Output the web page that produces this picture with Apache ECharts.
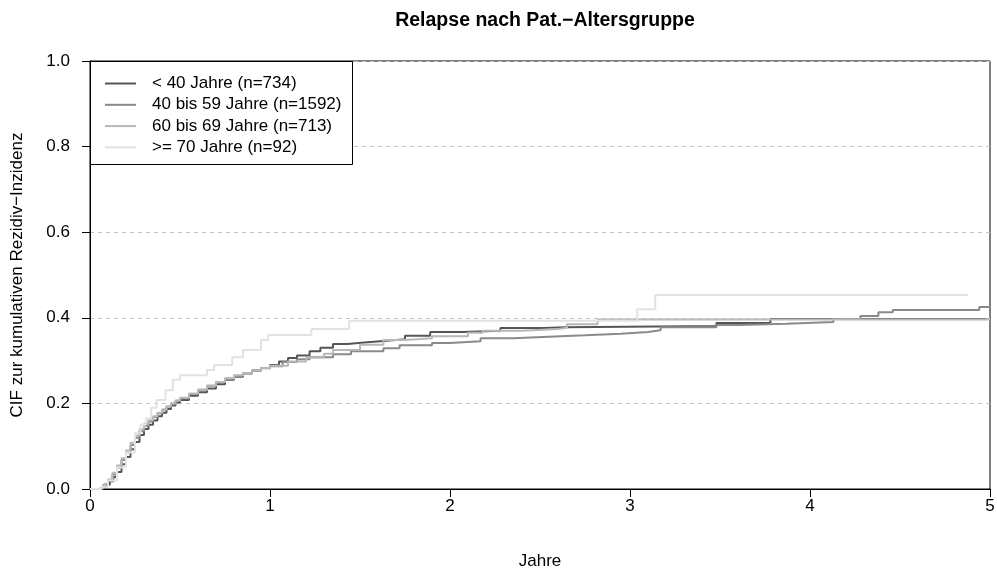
<!DOCTYPE html>
<html>
<head>
<meta charset="utf-8">
<script src="https://cdn.jsdelivr.net/npm/echarts@6/dist/echarts.min.js"></script>
<style>
  html, body { margin: 0; padding: 0; background: #fff; }
  #chart { width: 997px; height: 569px; }
</style>
</head>
<body>
<div id="chart"></div>
<script>
// Gruppen und Farben
const groupNames = ['< 40 Jahre (n=734)', '40 bis 59 Jahre (n=1592)', '60 bis 69 Jahre (n=713)', '>= 70 Jahre (n=92)']
const groupColors = ['#555555', '#8a8a8a', '#b8b8b8', '#e2e2e2']

const yTicks = [0, 0.2, 0.4, 0.6, 0.8, 1.0]
const xTicks = [0, 1, 2, 3, 4, 5]

// Zeitpunkte (Jahre) und CIF-Werte
const t40 = [0, 0.07, 0.09, 0.11, 0.13, 0.15, 0.175, 0.2, 0.225, 0.25, 0.275, 0.3, 0.325, 0.35, 0.375, 0.4, 0.425, 0.45, 0.475, 0.5, 0.55, 0.6, 0.65, 0.7, 0.75, 0.8, 0.85, 0.9, 0.95, 1.0, 1.05, 1.1, 1.15, 1.22, 1.28, 1.35, 1.43, 1.54, 1.63, 1.75, 1.89, 2.07, 2.28, 2.52, 2.64, 3.48, 3.78, 4.98]
const v40 = [0, 0.005, 0.01, 0.018, 0.028, 0.04, 0.058, 0.075, 0.093, 0.11, 0.126, 0.14, 0.15, 0.16, 0.17, 0.178, 0.187, 0.195, 0.202, 0.208, 0.218, 0.226, 0.235, 0.245, 0.255, 0.262, 0.27, 0.277, 0.283, 0.29, 0.298, 0.306, 0.312, 0.322, 0.33, 0.339, 0.343, 0.346, 0.35, 0.358, 0.367, 0.37, 0.376, 0.378, 0.381, 0.388, 0.397, 0.397]

const t4059 = [0, 0.05, 0.075, 0.1, 0.125, 0.15, 0.175, 0.2, 0.225, 0.25, 0.275, 0.3, 0.325, 0.35, 0.375, 0.4, 0.425, 0.45, 0.475, 0.5, 0.55, 0.6, 0.65, 0.7, 0.75, 0.8, 0.85, 0.9, 0.95, 1.0, 1.07, 1.15, 1.22, 1.35, 1.45, 1.63, 1.72, 1.9, 2.0, 2.17, 2.35, 2.55, 2.75, 2.95, 3.1, 3.17, 3.48, 3.61, 3.87, 4.13, 4.28, 4.38, 4.46, 4.94, 5.0]
const v4059 = [0, 0.004, 0.01, 0.02, 0.034, 0.05, 0.068, 0.085, 0.103, 0.12, 0.135, 0.148, 0.158, 0.168, 0.177, 0.185, 0.193, 0.2, 0.206, 0.212, 0.222, 0.232, 0.241, 0.25, 0.258, 0.265, 0.271, 0.276, 0.282, 0.287, 0.297, 0.303, 0.308, 0.315, 0.322, 0.329, 0.336, 0.341, 0.345, 0.352, 0.356, 0.359, 0.363, 0.367, 0.371, 0.378, 0.383, 0.386, 0.39, 0.397, 0.404, 0.413, 0.418, 0.425, 0.425]

const t6069 = [0, 0.06, 0.08, 0.1, 0.125, 0.15, 0.175, 0.2, 0.225, 0.25, 0.275, 0.3, 0.325, 0.35, 0.375, 0.4, 0.425, 0.45, 0.475, 0.5, 0.55, 0.6, 0.65, 0.7, 0.75, 0.8, 0.85, 0.9, 0.95, 1.0, 1.1, 1.2, 1.3, 1.35, 1.5, 1.63, 1.75, 1.9, 2.1, 2.18, 2.4, 2.6, 2.65, 2.82, 5.0]
const v6069 = [0, 0.004, 0.012, 0.022, 0.038, 0.055, 0.072, 0.09, 0.108, 0.125, 0.14, 0.152, 0.161, 0.17, 0.178, 0.186, 0.193, 0.2, 0.207, 0.213, 0.223, 0.232, 0.241, 0.25, 0.258, 0.265, 0.271, 0.277, 0.283, 0.288, 0.298, 0.307, 0.316, 0.325, 0.337, 0.348, 0.352, 0.357, 0.365, 0.37, 0.374, 0.377, 0.385, 0.396, 0.396]

const t70 = [0, 0.06, 0.1, 0.15, 0.2, 0.25, 0.28, 0.31, 0.34, 0.37, 0.42, 0.46, 0.5, 0.65, 0.69, 0.79, 0.85, 0.95, 0.99, 1.23, 1.44, 3.04, 3.14, 4.88]
const v70 = [0, 0.005, 0.02, 0.05, 0.085, 0.13, 0.15, 0.165, 0.19, 0.208, 0.231, 0.255, 0.266, 0.278, 0.29, 0.308, 0.325, 0.348, 0.36, 0.374, 0.393, 0.42, 0.453, 0.453]

const times = [t40, t4059, t6069, t70]
const values = [v40, v4059, v6069, v70]

const font = 'Liberation Sans, Arial, sans-serif'
const fs = 17

const series = groupNames.map((name, i) => ({
  name: name,
  type: 'line',
  step: 'end',
  symbol: 'none',
  color: groupColors[i],
  lineStyle: { color: groupColors[i], width: 2 },
  data: times[i].map((t, k) => [t, values[i][k]]),
}))

const option = {
  animation: false,
  backgroundColor: '#fff',
  textStyle: { fontFamily: font },
  title: {
    text: 'Relapse nach Pat.\u2212Altersgruppe',
    left: 540,
    textAlign: 'center',
    top: 6,
    textStyle: { fontFamily: font, fontSize: 19.5, fontWeight: 'bold', color: '#000' },
  },
  grid: {
    left: 90,
    right: 7,
    top: 61,
    bottom: 80,
    outerBoundsMode: 'none',
    containLabel: false,
    show: true,
    borderColor: '#000',
    borderWidth: 1,
  },
  graphic: [
    {
      // Rahmen der Legende
      type: 'rect',
      z: 3,
      shape: { x: 90.5, y: 61.5, width: 262, height: 103 },
      style: { fill: '#fff', stroke: '#000', lineWidth: 1 },
    },
  ],
  legend: {
    orient: 'vertical',
    left: 90,
    top: 61,
    padding: [14, 10, 10, 15],
    icon: 'rect',
    itemWidth: 31,
    itemHeight: 2,
    itemGap: 4.3,
    z: 5,
    data: groupNames,
    formatter: (name) => '{a|' + name + '}',
    textStyle: {
      fontFamily: font,
      fontSize: fs,
      color: '#000',
      rich: { a: { fontFamily: font, fontSize: fs, color: '#000', padding: [0, 0, 0, 11], lineHeight: 17 } },
    },
  },
  xAxis: {
    type: 'value',
    min: 0,
    max: 5,
    interval: 1,
    name: 'Jahre',
    nameLocation: 'middle',
    nameGap: 64,
    nameTextStyle: { fontFamily: font, fontSize: fs, color: '#000' },
    axisLine: { show: true, onZero: false, lineStyle: { color: '#000', width: 1 } },
    axisTick: { show: true, inside: false, length: 8, lineStyle: { color: '#000' } },
    axisLabel: {
      margin: 9,
      fontFamily: font,
      fontSize: fs,
      color: '#000',
      formatter: (v) => (xTicks.includes(v) ? String(v) : ''),
    },
    splitLine: { show: false },
  },
  yAxis: {
    type: 'value',
    min: 0,
    max: 1,
    interval: 0.2,
    name: 'CIF zur kumulativen Rezidiv\u2212Inzidenz',
    nameLocation: 'middle',
    nameGap: 64,
    nameTextStyle: { fontFamily: font, fontSize: fs, color: '#000' },
    axisLine: { show: true, lineStyle: { color: '#000', width: 1 } },
    axisTick: { show: true, inside: false, length: 8, lineStyle: { color: '#000' } },
    axisLabel: {
      margin: 20,
      fontFamily: font,
      fontSize: fs,
      color: '#000',
      formatter: (v) => {
        const hit = yTicks.find((y) => Math.abs(y - v) < 1e-9)
        return hit === undefined ? '' : hit.toFixed(1)
      },
    },
    splitLine: { show: true, lineStyle: { color: '#c4c4c4', type: [4, 4], width: 1 } },
  },
  series: series,
}

const chart = echarts.init(document.getElementById('chart'), null, { renderer: 'canvas' })
chart.setOption(option)
</script>
</body>
</html>
